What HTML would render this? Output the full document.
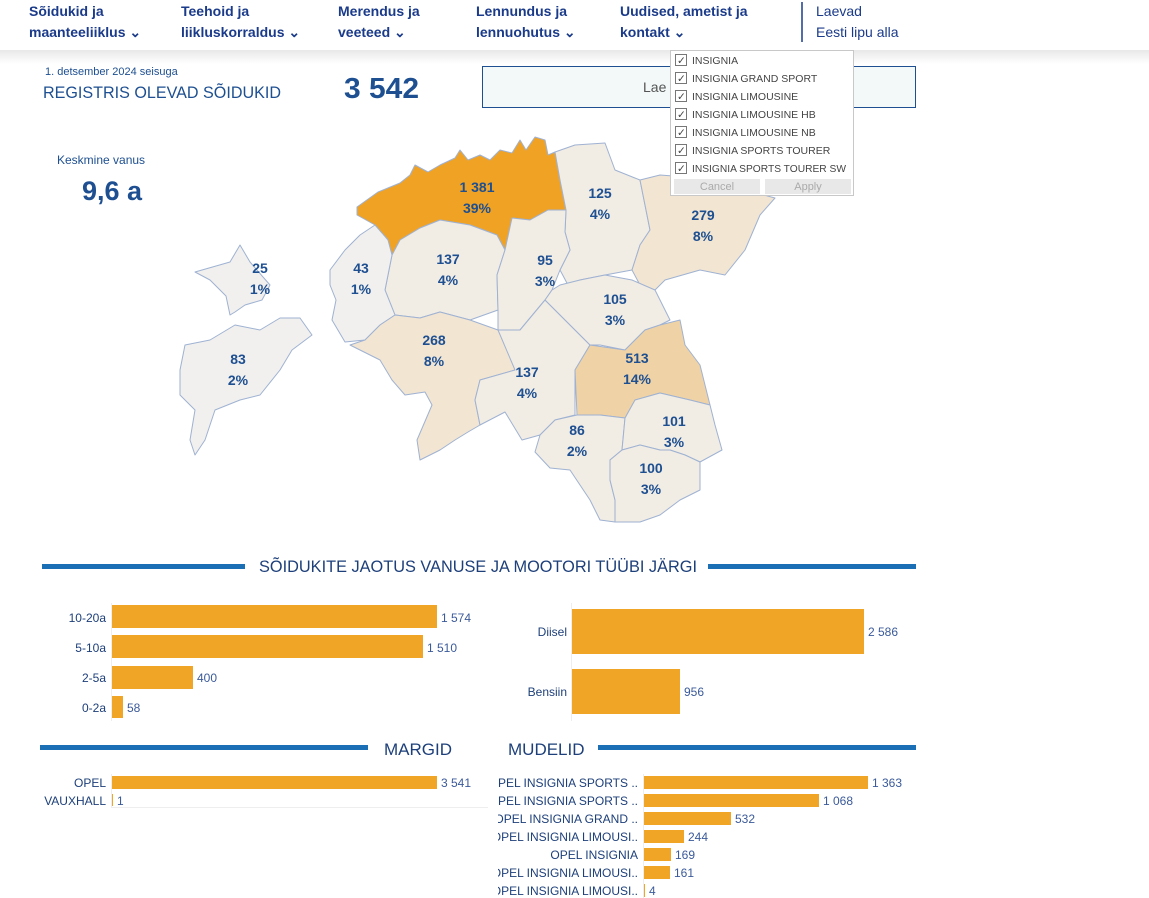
<!DOCTYPE html>
<html><head><meta charset="utf-8"><style>
html,body{margin:0;padding:0;width:1149px;height:898px;overflow:hidden;background:#fff;font-family:"Liberation Sans",sans-serif}
svg text{font-family:"Liberation Sans",sans-serif}
</style></head><body>
<svg width="1149" height="898" viewBox="0 0 1149 898" xmlns="http://www.w3.org/2000/svg">
<defs><linearGradient id="sh" x1="0" y1="0" x2="0" y2="1"><stop offset="0" stop-color="#e8e8e8"/><stop offset="1" stop-color="#fff"/></linearGradient></defs>
<rect x="0" y="50" width="1149" height="14" fill="url(#sh)"/>
<g font-size="14" font-weight="bold" fill="#1a3a8a">
<text x="29" y="16">Sõidukid ja</text><text x="29" y="37">maanteeliiklus ⌄</text>
<text x="181" y="16">Teehoid ja</text><text x="181" y="37">liikluskorraldus ⌄</text>
<text x="338" y="16">Merendus ja</text><text x="338" y="37">veeteed ⌄</text>
<text x="476" y="16">Lennundus ja</text><text x="476" y="37">lennuohutus ⌄</text>
<text x="620" y="16">Uudised, ametist ja</text><text x="620" y="37">kontakt ⌄</text>
</g>
<line x1="802" y1="2" x2="802" y2="42" stroke="#1a3a8a" stroke-width="1.5"/>
<text x="816" y="16" font-size="14" fill="#1a3a8a">Laevad</text>
<text x="816" y="37" font-size="14" fill="#1a3a8a">Eesti lipu alla</text>

<text x="45" y="75" font-size="11" fill="#1d4f91">1. detsember 2024 seisuga</text>
<text x="43" y="98" font-size="17" fill="#1d4f91" textLength="238" lengthAdjust="spacingAndGlyphs">REGISTRIS OLEVAD SÕIDUKID</text>
<text x="344" y="98" font-size="29" font-weight="bold" fill="#1d4f91" textLength="75" lengthAdjust="spacingAndGlyphs">3 542</text>
<rect x="482.5" y="66.5" width="433" height="41" fill="#f3f9f9" stroke="#1d4f91"/>
<text x="643" y="92" font-size="14" fill="#555">Lae a</text>
<text x="57" y="164" font-size="12" fill="#1d4f91">Keskmine vanus</text>
<text x="82" y="200" font-size="27" font-weight="bold" fill="#1d4f91">9,6 a</text>

<g stroke="#9fb2d2" stroke-width="1" stroke-linejoin="round">
<path fill="#f0a224" d="M357,207 L378,192 L400,183 L410,175 L415,165 L428,172 L440,165 L455,158 L460,150 L468,160 L480,155 L490,160 L500,150 L512,153 L520,140 L526,150 L535,137 L545,140 L548,155 L555,152 L560,180 L566,210 L548,210 L530,220 L512,218 L505,250 L497,235 L470,225 L440,220 L420,228 L400,240 L392,255 L388,240 L375,225 L357,215Z"/>
<path fill="#f1ece4" d="M555,152 L575,145 L605,143 L615,170 L640,180 L650,230 L640,245 L632,270 L605,275 L580,280 L568,285 L560,270 L570,250 L565,232 L566,210 L560,180Z"/>
<path fill="#f2e5d2" d="M640,180 L660,175 L700,178 L745,190 L775,198 L760,215 L745,250 L725,275 L700,270 L665,280 L655,290 L640,285 L632,270 L640,245 L650,230Z"/>
<path fill="#f1ece4" d="M392,255 L400,240 L420,228 L440,220 L470,225 L497,235 L505,250 L497,275 L498,310 L470,320 L440,312 L420,318 L395,315 L385,290Z"/>
<path fill="#f1ece4" d="M505,250 L512,218 L530,220 L548,210 L566,210 L565,232 L570,250 L560,270 L552,290 L545,300 L520,330 L498,330 L498,310 L497,275Z"/>
<path fill="#f1f0ee" d="M330,270 L345,250 L360,235 L375,225 L388,240 L392,255 L385,290 L395,315 L380,325 L365,340 L345,342 L332,320 L336,300 L330,285Z"/>
<path fill="#f1f0ee" d="M195,272 L230,262 L240,245 L250,262 L270,285 L262,300 L245,305 L235,312 L230,315 L226,296 L210,280Z"/>
<path fill="#f1f0ee" d="M185,345 L210,340 L235,325 L260,330 L280,318 L300,318 L312,335 L292,350 L280,370 L260,395 L240,400 L215,410 L205,440 L195,455 L190,440 L195,410 L180,395 L180,370Z"/>
<path fill="#f2e5d2" d="M395,315 L420,318 L440,312 L470,320 L498,330 L520,330 L515,370 L480,380 L475,400 L480,425 L468,432 L455,440 L440,450 L420,460 L417,440 L432,405 L425,392 L405,395 L392,380 L380,360 L350,345 L365,340 L380,325Z"/>
<path fill="#f1ece4" d="M498,330 L520,330 L545,300 L565,320 L590,345 L575,370 L575,415 L555,420 L540,435 L522,440 L505,412 L480,425 L475,400 L480,380 L515,370Z"/>
<path fill="#f1ece4" d="M545,300 L552,290 L560,285 L580,280 L605,275 L632,280 L655,290 L670,320 L660,325 L645,330 L625,350 L600,345 L590,345 L565,320Z"/>
<path fill="#efd3a6" d="M590,345 L625,350 L645,330 L660,325 L680,320 L685,345 L700,365 L710,405 L690,400 L660,393 L635,400 L625,418 L600,415 L577,415 L575,370Z"/>
<path fill="#f1ece4" d="M540,435 L555,420 L577,415 L600,415 L625,418 L622,450 L610,460 L610,480 L615,500 L615,522 L600,520 L590,500 L570,470 L550,468 L535,452Z"/>
<path fill="#f1ece4" d="M625,418 L635,400 L660,393 L690,400 L710,405 L715,425 L722,450 L700,462 L685,455 L670,450 L660,450 L640,445 L622,450Z"/>
<path fill="#f1ece4" d="M610,460 L622,450 L640,445 L660,450 L670,450 L685,455 L700,462 L700,490 L680,500 L660,515 L640,522 L615,522 L615,500 L610,480Z"/>
</g>
<g font-size="14" font-weight="bold" fill="#1d4f91" text-anchor="middle">
<text x="477" y="192">1 381</text><text x="477" y="213">39%</text>
<text x="600" y="198">125</text><text x="600" y="219">4%</text>
<text x="703" y="220">279</text><text x="703" y="241">8%</text>
<text x="448" y="264">137</text><text x="448" y="285">4%</text>
<text x="545" y="265">95</text><text x="545" y="286">3%</text>
<text x="361" y="273">43</text><text x="361" y="294">1%</text>
<text x="260" y="273">25</text><text x="260" y="294">1%</text>
<text x="238" y="364">83</text><text x="238" y="385">2%</text>
<text x="434" y="345">268</text><text x="434" y="366">8%</text>
<text x="527" y="377">137</text><text x="527" y="398">4%</text>
<text x="615" y="304">105</text><text x="615" y="325">3%</text>
<text x="637" y="363">513</text><text x="637" y="384">14%</text>
<text x="577" y="435">86</text><text x="577" y="456">2%</text>
<text x="674" y="426">101</text><text x="674" y="447">3%</text>
<text x="651" y="473">100</text><text x="651" y="494">3%</text>
</g>

<rect x="670.5" y="50.5" width="183" height="145" fill="#fff" stroke="#c8c8c8"/>
<g font-size="10.5" fill="#444">
<g fill="none" stroke="#777"><rect x="675.5" y="54.5" width="11" height="11"/><rect x="675.5" y="72.5" width="11" height="11"/><rect x="675.5" y="90.5" width="11" height="11"/><rect x="675.5" y="108.5" width="11" height="11"/><rect x="675.5" y="126.5" width="11" height="11"/><rect x="675.5" y="144.5" width="11" height="11"/><rect x="675.5" y="162.5" width="11" height="11"/></g>
<text x="677" y="64">✓</text><text x="677" y="82">✓</text><text x="677" y="100">✓</text><text x="677" y="118">✓</text><text x="677" y="136">✓</text><text x="677" y="154">✓</text><text x="677" y="172">✓</text>
<text x="692" y="64">INSIGNIA</text><text x="692" y="82">INSIGNIA GRAND SPORT</text><text x="692" y="100">INSIGNIA LIMOUSINE</text><text x="692" y="118">INSIGNIA LIMOUSINE HB</text><text x="692" y="136">INSIGNIA LIMOUSINE NB</text><text x="692" y="154">INSIGNIA SPORTS TOURER</text><text x="692" y="172" textLength="154" lengthAdjust="spacingAndGlyphs">INSIGNIA SPORTS TOURER SW</text>
</g>
<rect x="674" y="179" width="86" height="15" fill="#e8e8e8"/><rect x="765" y="179" width="86" height="15" fill="#e8e8e8"/>
<text x="717" y="190" font-size="11" fill="#aaa" text-anchor="middle">Cancel</text><text x="808" y="190" font-size="11" fill="#aaa" text-anchor="middle">Apply</text>

<rect x="42" y="564" width="203" height="5" fill="#1a6fb5"/><rect x="708" y="564" width="208" height="5" fill="#1a6fb5"/>
<text x="259" y="572" font-size="17" fill="#1d3f7a" textLength="438" lengthAdjust="spacingAndGlyphs">SÕIDUKITE JAOTUS VANUSE JA MOOTORI TÜÜBI JÄRGI</text>

<line x1="111.5" y1="603" x2="111.5" y2="721" stroke="#eee"/>
<g fill="#f0a526">
<rect x="112" y="605" width="325" height="23"/><rect x="112" y="635" width="311" height="23"/><rect x="112" y="666" width="81" height="23"/><rect x="112" y="696" width="11" height="22"/>
</g>
<g font-size="12" fill="#1d3f7a" text-anchor="end"><text x="106" y="622">10-20a</text><text x="106" y="652">5-10a</text><text x="106" y="682">2-5a</text><text x="106" y="712">0-2a</text></g>
<g font-size="12" fill="#3b5a9a"><text x="441" y="622">1 574</text><text x="427" y="652">1 510</text><text x="197" y="682">400</text><text x="127" y="712">58</text></g>

<line x1="571.5" y1="603" x2="571.5" y2="721" stroke="#eee"/>
<rect x="572" y="609" width="292" height="45" fill="#f0a526"/><rect x="572" y="669" width="108" height="45" fill="#f0a526"/>
<g font-size="12" fill="#1d3f7a" text-anchor="end"><text x="567" y="636">Diisel</text><text x="567" y="696">Bensiin</text></g>
<g font-size="12" fill="#3b5a9a"><text x="868" y="636">2 586</text><text x="684" y="696">956</text></g>

<rect x="40" y="745" width="328" height="5" fill="#1a6fb5"/><rect x="598" y="745" width="318" height="5" fill="#1a6fb5"/>
<text x="384" y="755" font-size="17" fill="#1d3f7a">MARGID</text><text x="508" y="755" font-size="17" fill="#1d3f7a">MUDELID</text>

<line x1="111.5" y1="774" x2="111.5" y2="808" stroke="#eee"/><line x1="112" y1="807.5" x2="490" y2="807.5" stroke="#eee"/>
<rect x="112" y="776" width="325" height="13" fill="#f0a526"/><rect x="112" y="794" width="1" height="12" fill="#f0a526"/>
<g font-size="12" fill="#1d3f7a" text-anchor="end"><text x="106" y="787">OPEL</text><text x="106" y="805">VAUXHALL</text></g>
<g font-size="12" fill="#3b5a9a"><text x="441" y="787">3 541</text><text x="117" y="805">1</text></g>

<line x1="643.5" y1="774" x2="643.5" y2="898" stroke="#eee"/>
<g fill="#f0a526"><rect x="644" y="776" width="224" height="13"/><rect x="644" y="794" width="175" height="13"/><rect x="644" y="812" width="87" height="13"/><rect x="644" y="830" width="40" height="13"/><rect x="644" y="848" width="27" height="13"/><rect x="644" y="866" width="26" height="13"/><rect x="644" y="884" width="1" height="13"/></g>
<g font-size="12" fill="#1d3f7a" text-anchor="end"><text x="638" y="787">OPEL INSIGNIA SPORTS ..</text><text x="638" y="805">OPEL INSIGNIA SPORTS ..</text><text x="638" y="823">OPEL INSIGNIA GRAND ..</text><text x="638" y="841">OPEL INSIGNIA LIMOUSI..</text><text x="638" y="859">OPEL INSIGNIA</text><text x="638" y="877">OPEL INSIGNIA LIMOUSI..</text><text x="638" y="895">OPEL INSIGNIA LIMOUSI..</text></g>
<rect x="488" y="770" width="10" height="128" fill="#fff"/>
<g font-size="12" fill="#3b5a9a"><text x="872" y="787">1 363</text><text x="823" y="805">1 068</text><text x="735" y="823">532</text><text x="688" y="841">244</text><text x="675" y="859">169</text><text x="674" y="877">161</text><text x="649" y="895">4</text></g>
</svg>
</body></html>
